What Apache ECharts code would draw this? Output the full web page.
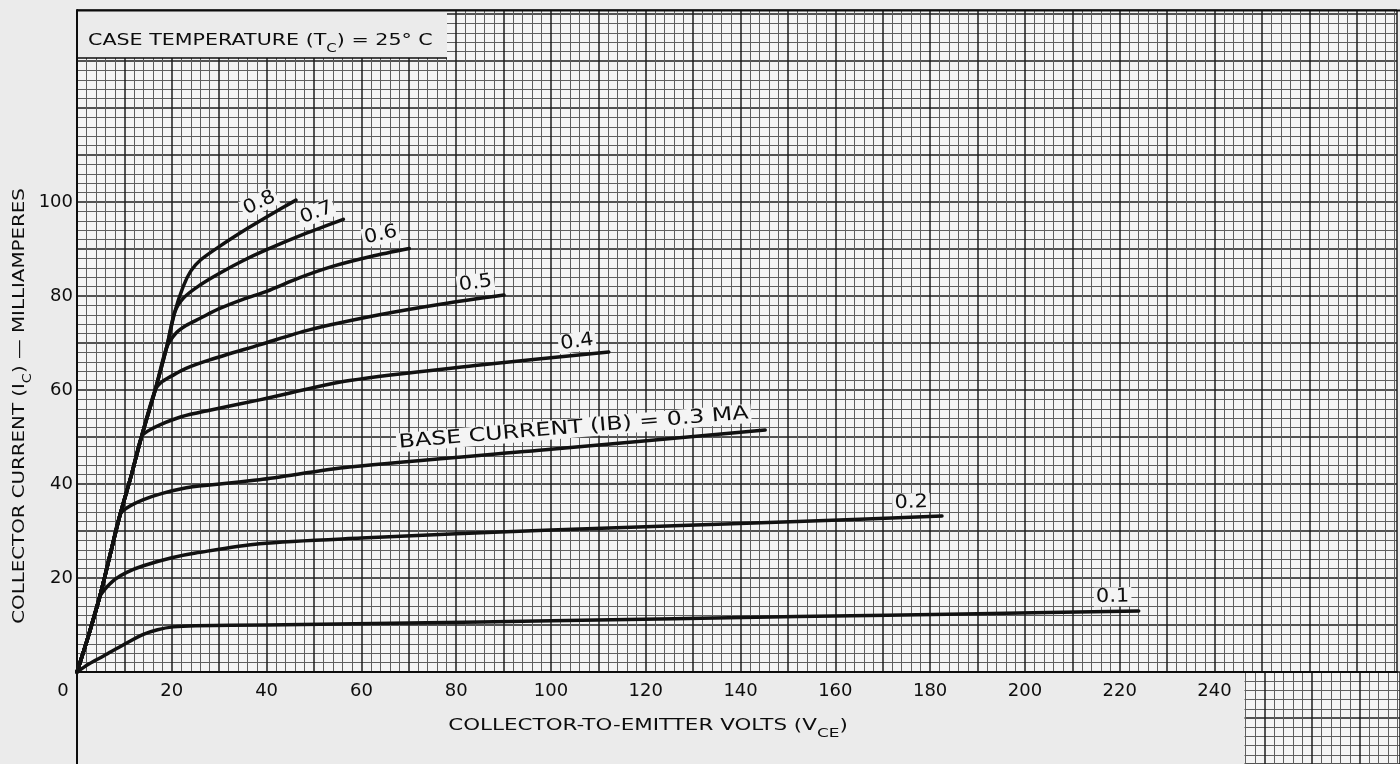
<!DOCTYPE html>
<html><head><meta charset="utf-8">
<script src="https://cdn.jsdelivr.net/npm/echarts@6/dist/echarts.min.js"></script>
<style>html,body{margin:0;padding:0;background:#ebebeb}#c{width:1400px;height:764px}</style>
</head><body><div id="c"></div>
<script>
// ---- data (V_CE in volts, I_C in mA) ----
const xTickLabels = [20,40,60,80,100,120,140,160,180,200,220,240];
const yTickLabels = [20,40,60,80,100];
const baseCurrents = ['0.8','0.7','0.6','0.5','0.4','0.3','0.2','0.1'];
const saturationLine = [[0,0],[2.5,8],[4.8,16],[7,25],[9.1,33.5],[11.5,42],[13.6,50],[16.5,60],[18.9,69],[20.6,76.5],[22.4,82]];
const ib08 = [[22.4,82],[24,85.3],[26,87.6],[30,90.5],[36,94.4],[41,97.4],[46.2,100.4]];
const ib07 = [[20.6,76.5],[22.5,79.6],[25.9,82.3],[30,84.8],[35,87.5],[39.9,89.8],[48,93.2],[56.2,96.3]];
const ib06 = [[18.9,69],[20.8,72],[23,73.7],[25.9,75.2],[30,77.3],[35,79.3],[40,81],[47,83.9],[53.9,86.3],[62,88.4],[70.1,90.1]];
const ib05 = [[16.5,60],[18,61.8],[20,63],[23,64.6],[28,66.4],[38.5,69.6],[49,72.8],[63.8,76],[77,78.3],[90.1,80.2]];
const ib04 = [[13.6,50],[15,51.3],[17.5,52.6],[22,54.3],[28,55.7],[38.5,57.9],[57.5,62],[85,65.3],[112.2,68.1]];
const ib03 = [[9.1,33.5],[10.5,34.9],[13.9,36.6],[18,38],[24.4,39.4],[38.5,40.9],[57.5,43.6],[100,47.4],[145.2,51.5]];
const ib02 = [[4.8,16],[5.8,17.5],[8,19.7],[10.5,21.2],[14,22.6],[20,24.3],[25,25.3],[38.5,27.3],[60,28.5],[100,30.2],[152,32],[182.5,33.2]];
const ib01 = [[0,0],[2.5,1.7],[5.6,3.4],[10,5.9],[14,8],[17,9],[20.3,9.6],[25,9.85],[40,10],[70,10.4],[100,10.9],[152,11.8],[190,12.4],[224,13]];
// curve annotations: [V, I] anchor in data space
const curveLabelAt = [[38.5,99.8],[50.5,97.7],[64.1,93],[84.1,82.7],[105.5,70.2],[104.8,51.9],[176,36],[218.5,16]];
const curveLabelAngle = [25,20,12,8,8,4.8,2,1];

const curves = [ib08, ib07, ib06, ib05, ib04, ib03, ib02, ib01];

const chart = echarts.init(document.getElementById('c'), null, {renderer:'canvas'});
const NUM = 'DejaVu Sans';
const INK = '#0d0d0d';
const majorLine = {show:true, lineStyle:{color:'#1e1e1e', width:1.5}};
const minorLine = {show:true, lineStyle:{color:'#5e5e5e', width:1}};

const series = curves.map((c, k) => ({
  type:'line', name:'IB ' + baseCurrents[k], xAxisIndex:0, yAxisIndex:0,
  data: saturationLine.filter(p => p[0] < c[0][0]).concat(c),
  showSymbol:false, smooth:0.3, z:15,
  lineStyle:{color:'#111', width:3.5, cap:'round', join:'round'}, animation:false
}));

chart.setOption({
  animation:false,
  backgroundColor:'#ebebeb',
  grid:[
    {left:77, right:0, top:10, bottom:92, show:true, backgroundColor:'#f4f4f4', borderWidth:0},
    {left:77, right:0, top:672, bottom:-2, show:true, backgroundColor:'#f4f4f4', borderWidth:0}
  ],
  xAxis:[
    {type:'value', gridIndex:0, min:0, max:278.5, interval:10, z:10,
     axisLine:{show:true, onZero:false, lineStyle:{color:INK, width:2}},
     axisTick:{show:false},
     axisLabel:{show:true, margin:10, color:INK, fontFamily:NUM, fontSize:18,
       formatter:v => xTickLabels.includes(v) ? String(v) : ''},
     splitLine:majorLine, minorTick:{show:false, splitNumber:5}, minorSplitLine:minorLine},
    {type:'value', gridIndex:1, min:0, max:278.5, interval:10, z:0,
     axisLine:{show:false}, axisTick:{show:false}, axisLabel:{show:false},
     splitLine:majorLine, minorTick:{show:false, splitNumber:5}, minorSplitLine:minorLine}
  ],
  yAxis:[
    {type:'value', gridIndex:0, min:0, max:140.85, interval:10, z:10,
     axisLine:{show:true, lineStyle:{color:INK, width:2}},
     axisTick:{show:false},
     axisLabel:{show:true, margin:4, color:INK, fontFamily:NUM, fontSize:18,
       formatter:v => yTickLabels.includes(v) ? String(v) : ''},
     splitLine:majorLine, minorTick:{show:false, splitNumber:5}, minorSplitLine:minorLine},
    {type:'value', gridIndex:1, min:-20, max:0, interval:10, z:0,
     axisLine:{show:false}, axisTick:{show:false}, axisLabel:{show:false},
     splitLine:majorLine, minorTick:{show:false, splitNumber:5}, minorSplitLine:minorLine}
  ],
  series: series
});

// ---- annotations (text), placed through the chart's own scales ----
const P = (v, i) => chart.convertToPixel({xAxisIndex:0, yAxisIndex:0}, [v, i]);
const origin = P(0, 0);
const txt = (s, extra) => Object.assign({fill:INK, fontFamily:NUM, fontSize:18}, s, extra || {});

const graphics = [];
graphics.push({type:'rect', z:5, shape:{x:origin[0]+1, y:origin[1]+1, width:1244.5-origin[0]-1, height:764-origin[1]}, style:{fill:'#ebebeb'}});
graphics.push({type:'line', z:11, shape:{x1:origin[0], y1:origin[1], x2:origin[0], y2:764}, style:{stroke:INK, lineWidth:2}});
graphics.push({type:'rect', z:20, shape:{x:origin[0]+1, y:11, width:447-origin[0]-1, height:47}, style:{fill:'#ebebeb'}});
graphics.push({type:'line', z:21, shape:{x1:origin[0], y1:10.5, x2:1400, y2:10.5}, style:{stroke:INK, lineWidth:2}});
graphics.push({type:'line', z:21, shape:{x1:origin[0], y1:58, x2:447, y2:58}, style:{stroke:INK, lineWidth:1.5}});
graphics.push({type:'text', z:22, x:88, y:41, scaleX:1.25,
  style:txt({text:'{a|CASE TEMPERATURE (T}{s|C}{a|) = 25° C}', align:'left', verticalAlign:'middle',
    rich:{a:{fontSize:16.5, fontFamily:NUM, fill:INK, lineHeight:20}, s:{fontSize:12, fontFamily:NUM, fill:INK, lineHeight:28, verticalAlign:'bottom'}}})});
graphics.push({type:'text', z:22, x:origin[0]-14, y:origin[1]+19, style:txt({text:'0', align:'center', verticalAlign:'middle'})});
graphics.push({type:'text', z:22, x:648, y:726, scaleX:1.3,
  style:txt({text:'{a|COLLECTOR-TO-EMITTER VOLTS (V}{s|CE}{a|)}', align:'center', verticalAlign:'middle',
    rich:{a:{fontSize:16.5, fontFamily:NUM, fill:INK, lineHeight:20}, s:{fontSize:13, fontFamily:NUM, fill:INK, lineHeight:28, verticalAlign:'bottom'}}})});
graphics.push({type:'text', z:22, x:20, y:406, rotation:Math.PI/2, scaleX:1.2,
  style:txt({text:'{a|COLLECTOR CURRENT (I}{s|C}{a|) — MILLIAMPERES}', align:'center', verticalAlign:'middle',
    rich:{a:{fontSize:16.5, fontFamily:NUM, fill:INK, lineHeight:20}, s:{fontSize:12, fontFamily:NUM, fill:INK, lineHeight:28, verticalAlign:'bottom'}}})});
curveLabelAt.forEach((a, k) => {
  const p = P(a[0], a[1]);
  const isBase = baseCurrents[k] === '0.3';
  const text = isBase ? '{a|BASE CURRENT (I}{b|B}{a|) = 0.3 MA}' : '{a|' + baseCurrents[k] + '}';
  graphics.push({type:'text', z:30, x:p[0], y:p[1], rotation:curveLabelAngle[k]*Math.PI/180, scaleX: isBase ? 1.25 : 1.1,
    style:txt({text:text, align:'center', verticalAlign:'middle', backgroundColor:'#f4f4f4', padding:[0,2,0,2],
      rich:{a:{fontSize:19, fontFamily:NUM, fill:INK}, b:{fontSize:19, fontFamily:NUM, fill:INK}}})});
});
chart.setOption({graphic:{elements:graphics}});
</script></body></html>
